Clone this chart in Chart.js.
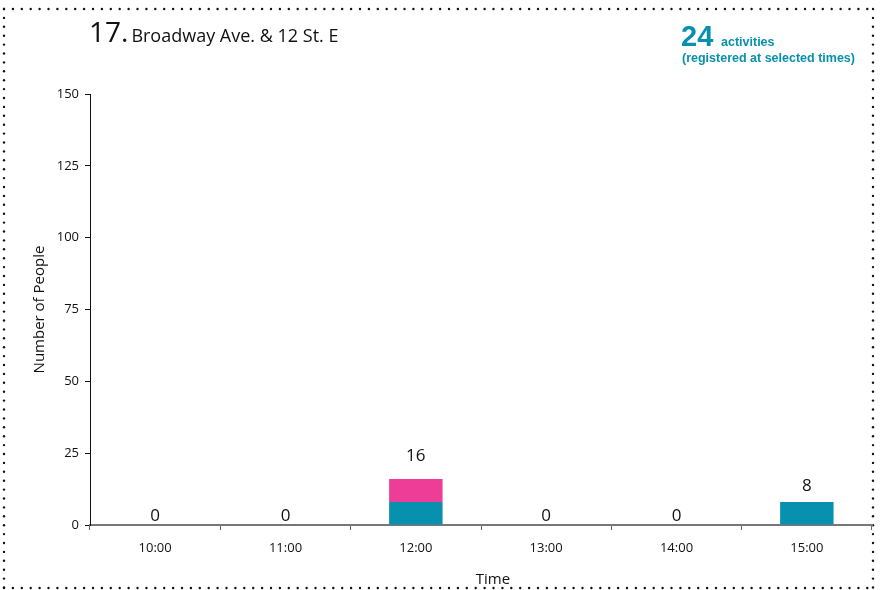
<!DOCTYPE html>
<html>
<head>
<meta charset="utf-8">
<script src="https://cdn.jsdelivr.net/npm/chart.js@4/dist/chart.umd.min.js"></script>
<style>
  html, body { margin: 0; padding: 0; background: #fff; }
  #wrap { position: relative; width: 882px; height: 590px; }
</style>
</head>
<body>
<div id="wrap"><canvas id="chart" width="882" height="590"></canvas></div>
<script>
const times = ['10:00', '11:00', '12:00', '13:00', '14:00', '15:00'];
const tealValues = [0, 0, 8, 0, 0, 8];
const pinkValues = [0, 0, 8, 0, 0, 0];
const yTicks = [0, 25, 50, 75, 100, 125, 150];
const siteNumber = '17.';
const siteName = 'Broadway Ave. & 12 St. E';
const activityCount = '24';

const TEAL = '#0891ae', PINK = '#ee3d96', FONT = '"Open Sans", sans-serif';

// dotted frame + header texts
const framePlugin = {
    id: 'frame',
    beforeDraw(chart) {
        const ctx = chart.ctx;
        ctx.save();
        ctx.fillStyle = '#111';
        const L = 4, T = 9, R = 873, B = 588, step = 8.9;
        for (let x = L; x <= R + 0.5; x += step) { dot(ctx, x, T); dot(ctx, x, B); }
        for (let y = T; y <= B + 0.5; y += step) { dot(ctx, L, y); dot(ctx, R, y); }
        ctx.restore();
    },
    afterDraw(chart) {
        const ctx = chart.ctx;
        ctx.save();
        ctx.textBaseline = 'alphabetic';
        ctx.fillStyle = '#111';
        ctx.font = '28px ' + FONT;
        ctx.fillText(siteNumber, 89, 42);
        const w = ctx.measureText(siteNumber).width;
        ctx.font = '18px ' + FONT;
        ctx.fillText(siteName, 89 + w + 3, 42);

        // x axis title sits a bit right of centre in the original
        ctx.font = '15px ' + FONT;
        ctx.textAlign = 'center';
        ctx.fillText('Time', 493, 584);
        ctx.textAlign = 'left';

        ctx.fillStyle = TEAL;
        ctx.font = 'bold 29px "Liberation Sans", Arial, sans-serif';
        ctx.fillText(activityCount, 681, 46);
        ctx.font = 'bold 12.5px "Liberation Sans", Arial, sans-serif';
        ctx.fillText('activities', 721, 46);
        ctx.fillText('(registered at selected times)', 682, 62);
        ctx.restore();
    }
};
function dot(ctx, x, y) { ctx.beginPath(); ctx.arc(x, y, 1.2, 0, Math.PI * 2); ctx.fill(); }

// totals above each stack
const totalsPlugin = {
    id: 'totals',
    afterDatasetsDraw(chart) {
        const ctx = chart.ctx, xs = chart.scales.x, ys = chart.scales.y;
        ctx.save();
        ctx.font = '17px ' + FONT;
        ctx.fillStyle = '#111';
        ctx.textAlign = 'center';
        ctx.textBaseline = 'middle';
        times.forEach((t, i) => {
            const total = tealValues[i] + pinkValues[i];
            ctx.fillText(String(total), xs.getPixelForValue(i), ys.getPixelForValue(total * 1.3 + 3));
        });
        ctx.restore();
    }
};

new Chart(document.getElementById('chart'), {
    type: 'bar',
    data: {
        labels: times,
        datasets: [
            { label: 'teal', data: tealValues, backgroundColor: TEAL, barPercentage: 0.41, categoryPercentage: 1 },
            { label: 'pink', data: pinkValues, backgroundColor: PINK, barPercentage: 0.41, categoryPercentage: 1 }
        ]
    },
    options: {
        responsive: false,
        animation: false,
        layout: { padding: { top: 94, right: 10, left: 0, bottom: 0 } },
        plugins: { legend: { display: false }, tooltip: { enabled: false } },
        scales: {
            x: {
                stacked: true,
                offset: true,
                grid: { offset: true, drawOnChartArea: false, drawTicks: true, tickLength: 5, color: '#666', lineWidth: 1 },
                border: { color: '#777', width: 2 },
                ticks: { color: '#111', font: { family: FONT, size: 13 }, padding: 10 },
                title: { display: false },
                afterFit(scale) { scale.height = 65; }
            },
            y: {
                stacked: true,
                min: 0, max: 150,
                afterBuildTicks(scale) { scale.ticks = yTicks.map(v => ({ value: v })); },
                grid: { drawOnChartArea: false, drawTicks: true, tickLength: 5, color: '#111' },
                border: { color: '#111', width: 1 },
                ticks: { color: '#111', font: { family: FONT, size: 13 }, padding: 6 },
                title: { display: true, text: 'Number of People', color: '#111', font: { family: FONT, size: 15 }, padding: { top: 31, bottom: 0 } },
                afterFit(scale) { scale.width = 90; }
            }
        }
    },
    plugins: [framePlugin, totalsPlugin]
});
</script>
</body>
</html>
